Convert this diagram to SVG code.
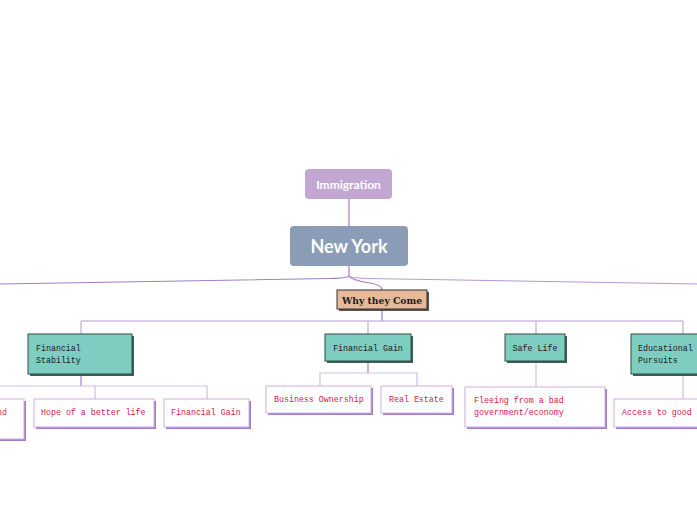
<svg xmlns="http://www.w3.org/2000/svg" width="697" height="520" viewBox="0 0 697 520">
<style>
.root{fill:#ffffff;font-family:Lato,"Open Sans",sans-serif;font-weight:bold;text-anchor:middle}
.mono{font-family:"Liberation Mono","DejaVu Sans Mono",monospace;font-size:8.3px}
.teal{fill:#7ecdc1;stroke:#2f4f47;stroke-width:1}
.tshadow{fill:#3f5f57}
.leaf{fill:#ffffff;stroke:#cdb0e0;stroke-width:1}
.lshadow{fill:#a27cc6}
.leaftext{fill:#d4204c}
.c1{fill:none;stroke:#a57cc6;stroke-width:1.2}
.c2{fill:none;stroke:#b896d3;stroke-width:1}
.c3{fill:none;stroke:#d3bce6;stroke-width:1.2}
</style>
<rect width="697" height="520" fill="#ffffff"/>
<g id="connectors">
<path class="c1" d="M349 199 V226"/>
<path class="c1" d="M349 266 V276 Q348 278 330 278.5 L0 284"/>
<path class="c2" d="M349 276 Q350 278 368 278.5 L697 284"/>
<path class="c1" d="M349 276 Q351 280 370 283 Q382 285 382 290"/>
<path class="c1" d="M382 309 V321"/>
<path class="c2" d="M81 334 V321 H683 V334"/>
<path class="c2" d="M368 321 V334 M536 321 V334"/>
<path class="c1" d="M81 374 V386"/>
<path class="c3" d="M0 386 H207 V399 M95 386 V399"/>
<path class="c1" d="M368 361 V373"/>
<path class="c3" d="M320 386 V373 H417 V386"/>
<path class="c3" d="M536 361 V387"/>
<path class="c3" d="M683 374 V399"/>
</g>
<g id="immigration">
<rect x="305" y="169" width="87" height="30" rx="4" fill="#c3a7d3"/>
<text class="root" x="348.5" y="189" font-size="12">Immigration</text>
</g>
<g id="new-york">
<rect x="290" y="226" width="118" height="40" rx="4" fill="#8b9db6"/>
<text class="root" x="349" y="252.5" font-size="18">New York</text>
</g>
<g id="why-they-come">
<rect x="339" y="292" width="90" height="19" fill="#555"/>
<rect x="337" y="290" width="90" height="19" fill="#e7b999" stroke="#333" stroke-width="1"/>
<text x="382" y="303.5" font-family="'DejaVu Serif',serif" font-weight="bold" font-size="10" text-anchor="middle" textLength="80" lengthAdjust="spacingAndGlyphs" fill="#1a1a1a">Why they Come</text>
</g>
<g id="financial-stability">
<rect class="tshadow" x="30" y="336" width="104" height="40"/>
<rect class="teal" x="28" y="334" width="104" height="40"/>
<text class="mono" x="36" y="351" fill="#1a1a1a">Financial</text>
<text class="mono" x="36" y="363" fill="#1a1a1a">Stability</text>
</g>
<g id="financial-gain">
<rect class="tshadow" x="327" y="336" width="86" height="27"/>
<rect class="teal" x="325" y="334" width="86" height="27"/>
<text class="mono" x="368" y="351" text-anchor="middle" fill="#1a1a1a">Financial Gain</text>
</g>
<g id="safe-life">
<rect class="tshadow" x="507" y="336" width="60" height="27"/>
<rect class="teal" x="505" y="334" width="60" height="27"/>
<text class="mono" x="535" y="351" text-anchor="middle" fill="#1a1a1a">Safe Life</text>
</g>
<g id="educational-pursuits">
<rect class="tshadow" x="633" y="336" width="80" height="40"/>
<rect class="teal" x="631" y="334" width="80" height="40"/>
<text class="mono" x="638" y="351" fill="#1a1a1a">Educational</text>
<text class="mono" x="638" y="363" fill="#1a1a1a">Pursuits</text>
</g>
<g id="leaf-left-cut">
<rect class="lshadow" x="-60" y="401" width="86" height="40"/>
<rect class="leaf" x="-60" y="399" width="84" height="40"/>
<text class="mono leaftext" x="7" y="415" text-anchor="end">and</text>
</g>
<g id="hope-better-life">
<rect class="lshadow" x="36" y="401" width="120" height="28"/>
<rect class="leaf" x="34" y="399" width="120" height="28"/>
<text class="mono leaftext" x="41" y="415">Hope of a better life</text>
</g>
<g id="financial-gain-leaf">
<rect class="lshadow" x="166" y="401" width="85" height="28"/>
<rect class="leaf" x="164" y="399" width="85" height="28"/>
<text class="mono leaftext" x="171" y="415">Financial Gain</text>
</g>
<g id="business-ownership">
<rect class="lshadow" x="268" y="388" width="105" height="27"/>
<rect class="leaf" x="266" y="386" width="105" height="27"/>
<text class="mono leaftext" x="274" y="402">Business Ownership</text>
</g>
<g id="real-estate">
<rect class="lshadow" x="383" y="388" width="71" height="27"/>
<rect class="leaf" x="381" y="386" width="71" height="27"/>
<text class="mono leaftext" x="389" y="402">Real Estate</text>
</g>
<g id="fleeing">
<rect class="lshadow" x="467" y="389" width="140" height="40"/>
<rect class="leaf" x="465" y="387" width="140" height="40"/>
<text class="mono leaftext" x="474" y="403">Fleeing from a bad</text>
<text class="mono leaftext" x="474" y="415">government/economy</text>
</g>
<g id="access-to-good">
<rect class="lshadow" x="616" y="401" width="100" height="28"/>
<rect class="leaf" x="614" y="399" width="100" height="28"/>
<text class="mono leaftext" x="622" y="415">Access to good</text>
</g>
</svg>
